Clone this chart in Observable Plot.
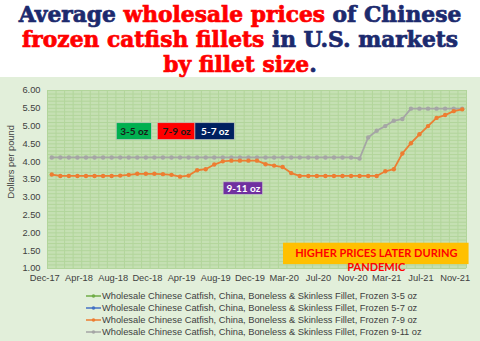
<!DOCTYPE html>
<html><head><meta charset="utf-8">
<script src="https://cdn.jsdelivr.net/npm/d3@7"></script>
<script src="https://cdn.jsdelivr.net/npm/@observablehq/plot@0.6"></script>
<style>
html,body{margin:0;padding:0;background:#fff;}
#wrap{width:480px;height:341px;position:relative;overflow:hidden;}
#title{height:77px;text-align:center;font-family:"DejaVu Serif",serif;font-weight:bold;font-size:21px;line-height:25px;color:#1c2a6e;padding-top:2px;box-sizing:border-box;-webkit-text-stroke:0.7px currentColor;white-space:nowrap;}
#title .ln{display:inline-block;}
#title .r{color:#ff0000;}
#chart{background:#e2efda;height:264px;}
#chart svg{display:block;}
#legend{padding:5px 0 0 86px;font-family:"Liberation Sans",Arial,sans-serif;font-size:9.3px;line-height:12px;color:#404040;}
#legend .row{display:flex;align-items:center;height:12px;}
#legend svg{margin-right:1px;}
</style></head>
<body>
<div id="wrap">
  <div id="title">
    <span class="ln">Average <span class="r">wholesale prices</span> of Chinese</span><br>
    <span class="ln"><span class="r">frozen catfish fillets</span> in U.S. markets</span><br>
    <span class="ln"><span class="r">by fillet size</span>.</span>
  </div>
  <div id="chart">
    <div id="plot"></div>
    <div id="legend"></div>
  </div>
</div>
<script>
// ---- data ----
const tickLabels = ["Dec-17","Apr-18","Aug-18","Dec-18","Apr-19","Aug-19","Dec-19","Mar-20","Jul-20","Nov-20","Mar-21","Jul-21","Nov-21"];
const yTicks = [1.00,1.50,2.00,2.50,3.00,3.50,4.00,4.50,5.00,5.50,6.00];
const seriesNames = [
  "Wholesale Chinese Catfish, China, Boneless & Skinless Fillet, Frozen 3-5 oz",
  "Wholesale Chinese Catfish, China, Boneless & Skinless Fillet, Frozen 5-7 oz",
  "Wholesale Chinese Catfish, China, Boneless & Skinless Fillet, Frozen 7-9 oz",
  "Wholesale Chinese Catfish, China, Boneless & Skinless Fillet, Frozen 9-11 oz"
];
const seriesColors = ["#70ad47","#4472c4","#ed7d31","#a5a5a5"];
// 3-5 oz and 5-7 oz series draw no visible points in the reference
const frozen3to5 = [];
const frozen5to7 = [];
const frozen7to9 = [3.64,3.60,3.60,3.60,3.60,3.60,3.60,3.60,3.61,3.63,
                    3.66,3.66,3.66,3.65,3.63,3.58,3.61,3.76,3.79,3.92,
                    4.01,4.03,4.03,4.03,4.03,3.93,3.89,3.85,3.68,3.60,
                    3.60,3.60,3.60,3.60,3.60,3.60,3.60,3.60,3.60,3.73,
                    3.79,4.23,4.52,4.77,5.00,5.23,5.31,5.42,5.47];
const frozen9to11 = [4.12,4.12,4.12,4.12,4.12,4.12,4.12,4.12,4.12,4.12,
                     4.12,4.12,4.12,4.12,4.12,4.12,4.12,4.12,4.12,4.12,
                     4.12,4.12,4.12,4.12,4.12,4.12,4.12,4.12,4.12,4.12,
                     4.12,4.12,4.12,4.12,4.12,4.12,4.09,4.68,4.87,5.00,
                     5.15,5.20,5.49,5.49,5.49,5.49,5.49,5.49,5.49];
const callouts = [
  {label:"3-5 oz", x1:7.6, x2:11.7, y1:4.61, y2:5.08, fill:"#00b050", color:"#1a1a1a"},
  {label:"7-9 oz", x1:12.4, x2:16.8, y1:4.61, y2:5.08, fill:"#ff0000", color:"#1a1a1a"},
  {label:"5-7 oz", x1:16.8, x2:21.4, y1:4.61, y2:5.08, fill:"#002060", color:"#ffffff"},
  {label:"9-11 oz", x1:20.1, x2:24.7, y1:3.07, y2:3.42, fill:"#7030a0", color:"#ffffff"}
];
const pandemicNote = {label:"HIGHER PRICES LATER DURING\nPANDEMIC", x1:27.1, x2:48.8, y1:1.11, y2:1.71, fill:"#ffc000", color:"#ff0000"};

// ---- build ----
const toRows = vals => vals.map((v,i)=>({i, v}));
const r79 = toRows(frozen7to9), r911 = toRows(frozen9to11);
const tickIdx = tickLabels.map((_,k)=>k*4);
const n = frozen7to9.length;

const chart = Plot.plot({
  width:480, height:208,
  marginTop:13, marginBottom:17, marginLeft:47, marginRight:14,
  style:{background:"transparent", fontFamily:"'Liberation Sans', Arial, sans-serif", fontSize:"9.3px", color:"#404040", overflow:"visible"},
  x:{type:"linear", domain:[-0.5, n-0.5], axis:null},
  y:{domain:[1,6], axis:null},
  marks:[
    Plot.frame({fill:"#c5e0b3", stroke:null}),
    Plot.ruleY(d3.range(1, 6.001, 0.1), {stroke:"#b2d59b", strokeWidth:1}),
    Plot.ruleX(d3.range(-0.5, n, 1), {stroke:"#b2d59b", strokeWidth:1}),
    Plot.text(yTicks, {y:d=>d, frameAnchor:"left", textAnchor:"end", dx:-7, text:d=>d.toFixed(2), fill:"#404040"}),
    Plot.text(tickIdx, {x:d=>d, frameAnchor:"bottom", dy:12, dx:-7, text:(d,k)=>tickLabels[k], fill:"#404040"}),
    Plot.text(["Dollars per pound"], {frameAnchor:"left", rotate:-90, dx:-36, dy:19, text:d=>d, fill:"#404040"}),
    Plot.line(r911, {x:"i", y:"v", stroke:seriesColors[3], strokeWidth:1.8}),
    Plot.dot(r911, {x:"i", y:"v", fill:seriesColors[3], r:2.2, stroke:null}),
    Plot.line(r79, {x:"i", y:"v", stroke:seriesColors[2], strokeWidth:1.8}),
    Plot.dot(r79, {x:"i", y:"v", fill:seriesColors[2], r:2.2, stroke:null}),
    Plot.rect(callouts, {x1:"x1", x2:"x2", y1:"y1", y2:"y2", fill:"fill", stroke:"#c8c8c8", strokeWidth:0.6}),
    Plot.text(callouts, {x:d=>(d.x1+d.x2)/2, y:d=>(d.y1+d.y2)/2, text:"label", fill:"color", fontWeight:"bold", fontFamily:"Lato, sans-serif", fontSize:10}),
    Plot.rect([pandemicNote], {x1:"x1", x2:"x2", y1:"y1", y2:"y2", fill:"fill"}),
    Plot.text([pandemicNote], {x:d=>(d.x1+d.x2)/2, y:1.25, text:"label", fill:"color", fontWeight:"bold", fontFamily:"Lato, sans-serif", fontSize:11, lineHeight:1.3})
  ]
});
document.getElementById("plot").appendChild(chart);

// legend
const leg = document.getElementById("legend");
seriesNames.forEach((name,k)=>{
  const row = document.createElement("div"); row.className="row";
  row.innerHTML = `<svg width="15" height="8"><line x1="0" y1="4" x2="15" y2="4" stroke="${seriesColors[k]}" stroke-width="1.5"/><circle cx="7.5" cy="4" r="1.8" fill="${seriesColors[k]}"/></svg><span>${name.replace("&","&amp;")}</span>`;
  leg.appendChild(row);
});

// fit title width
const lns = document.querySelectorAll("#title .ln");
const w0 = lns[0].getBoundingClientRect().width;
const fs = 21 * 443 / w0;
document.getElementById("title").style.fontSize = fs + "px";
</script>
</body></html>
